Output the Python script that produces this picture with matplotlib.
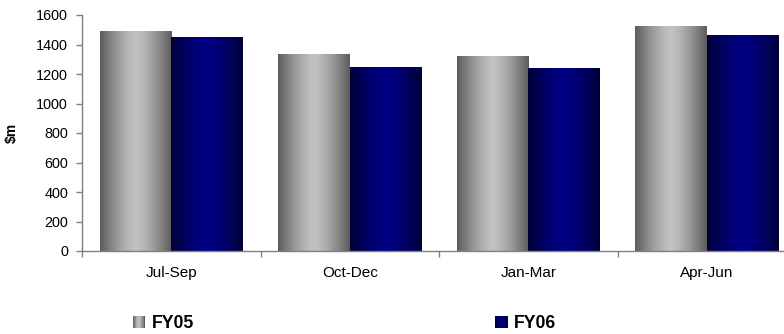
import numpy as np
import matplotlib
matplotlib.use("Agg")
import matplotlib.pyplot as plt
from matplotlib.patches import Rectangle
from matplotlib.legend_handler import HandlerBase

# Quarterly values, $m
quarters = ["Jul-Sep", "Oct-Dec", "Jan-Mar", "Apr-Jun"]
fy05 = [1492, 1335, 1322, 1525]
fy06 = [1451, 1247, 1241, 1464]
series_names = ["FY05", "FY06"]
y_ticks = [0, 200, 400, 600, 800, 1000, 1200, 1400, 1600]

plt.rcParams["font.family"] = ["Liberation Sans", "DejaVu Sans"]

# edge colour -> centre colour for the cylinder-like shading
shades = {
    "FY05": (np.array([0.36, 0.36, 0.36]), np.array([0.76, 0.76, 0.76])),
    "FY06": (np.array([0.00, 0.00, 0.22]), np.array([0.00, 0.00, 0.52])),
}


def gradient_colors(name, n=128):
    edge, centre = shades[name]
    t = np.linspace(0, 1, n)
    w = np.clip(np.abs(2 * t - 1), 0, 1) ** 1.4
    return centre[None, :] * (1 - w[:, None]) + edge[None, :] * w[:, None]


class GradientHandler(HandlerBase):
    def __init__(self, name, **kw):
        super().__init__(**kw)
        self.name = name

    def create_artists(self, legend, orig_handle, xdescent, ydescent,
                       width, height, fontsize, trans):
        x0, y0 = -xdescent, -ydescent
        cols = gradient_colors(self.name, 16)
        step = width / len(cols)
        arts = []
        for i, c in enumerate(cols):
            r = Rectangle((x0 + i * step, y0), step * 1.05, height,
                          facecolor=c, edgecolor="none", transform=trans)
            arts.append(r)
        return arts


W, H = 784, 334
fig = plt.figure(figsize=(W / 100, H / 100), dpi=100)
ax_left, ax_right, ax_top, ax_bottom = 82, 796, 15, 251
ax = fig.add_axes([ax_left / W, 1 - ax_bottom / H,
                   (ax_right - ax_left) / W, (ax_bottom - ax_top) / H])

x = np.arange(len(quarters))
bw = 0.4
for vals, off, name in ((fy05, -bw / 2, "FY05"), (fy06, bw / 2, "FY06")):
    bars = ax.bar(x + off, vals, width=bw, color="none", edgecolor="none",
                  zorder=2)
    img = gradient_colors(name)[None, :, :]
    for b in bars:
        x0, w_, h_ = b.get_x(), b.get_width(), b.get_height()
        im = ax.imshow(img, extent=[x0, x0 + w_, 0, h_], aspect="auto",
                       interpolation="bilinear", zorder=2)
        im.set_clip_path(b)

ax.set_xlim(-0.5, len(quarters) - 0.5)
ax.set_ylim(0, 1600)
ax.set_yticks(y_ticks)
ax.set_aspect("auto")

for s in ("top", "right"):
    ax.spines[s].set_visible(False)
for s in ("left", "bottom"):
    ax.spines[s].set_color("#808080")
    ax.spines[s].set_linewidth(1.0)

ax.tick_params(axis="y", direction="out", length=4, width=1, color="#808080",
               labelsize=10.4, pad=6, labelcolor="black")
ax.set_xticks(x)
ax.set_xticklabels(quarters)
ax.set_xticks(np.arange(len(quarters) + 1) - 0.5, minor=True)
ax.tick_params(axis="x", which="major", length=0, labelsize=11, pad=11)
ax.tick_params(axis="x", which="minor", direction="out", length=4, width=1,
               color="#808080")

ax.set_ylabel(r"\$m", fontsize=10, fontweight="bold")
ax.yaxis.set_label_coords((19 - ax_left) / (ax_right - ax_left), 0.5)

# legend entries below the plot
legend_pos = {"FY05": 132.5, "FY06": 495}
for name in series_names:
    h = Rectangle((0, 0), 1, 1)
    fig.legend([h], [name], loc="center left",
               bbox_to_anchor=(legend_pos[name] / W, 1 - 324 / H),
               frameon=False, borderpad=0, borderaxespad=0,
               handlelength=0.72, handleheight=0.66, handletextpad=0.36,
               prop={"weight": "bold", "size": 12.7},
               handler_map={h: GradientHandler(name)})

fig.savefig("out.png", dpi=100)
